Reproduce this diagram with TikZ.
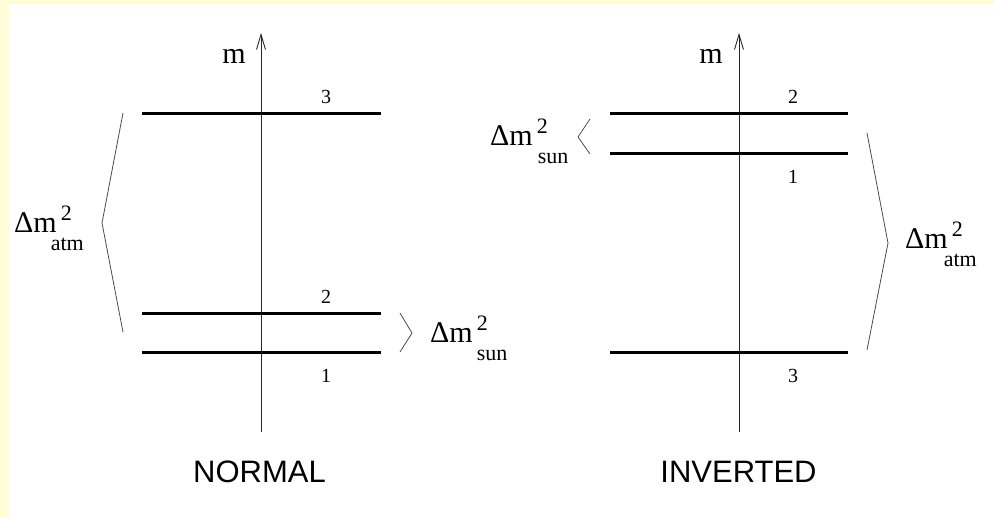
\documentclass[tikz,border=0pt]{standalone}
\usepackage{fontspec}
\setmainfont{Liberation Serif}
\setsansfont{Liberation Sans}
\usetikzlibrary{arrows.meta}

\definecolor{framey}{RGB}{255,253,214}

\tikzset{
  level/.style={line width=3pt, black},
  axis/.style={-{Straight Barb[length=15pt, width=9pt, line width=0.9pt]}, line width=0.9pt, black!85},
  bracket/.style={line width=0.8pt, black!70},
  numlab/.style={font=\fontsize{20}{20}\selectfont, anchor=base, inner sep=0pt},
  masslab/.style={font=\fontsize{30}{30}\selectfont, anchor=base, inner sep=0pt},
  splitlab/.style={font=\fontsize{30}{30}\selectfont, anchor=base west, inner sep=0pt},
  schemelab/.style={font=\sffamily\fontsize{31}{31}\selectfont, anchor=base, inner sep=0pt}
}

% Delta m^2 with its index set under the exponent
\newcommand{\dmsq}[2]{Δm\makebox[0pt][l]{\hspace{#2}\raisebox{-18pt}{\fontsize{22}{22}\selectfont #1}}\hspace{4pt}\raisebox{12pt}{\fontsize{22}{22}\selectfont 2}}

\begin{document}
\begin{tikzpicture}[x=1pt, y=-1pt]
    % fond jaune et zone blanche
    \fill[framey] (0,0) rectangle (994,517);
    \fill[white] (9,4) rectangle (994,517);
    \useasboundingbox (0,0) rectangle (994,517);

    % 1. Hiérarchie normale
    \coordinate (nbot) at (261,432);
    \coordinate (ntop) at (261,33);
    \draw[axis] (nbot) -- (ntop);
    \node[masslab] (nm) at (234,63) {m};

    % niveaux 3, 2, 1
    \foreach \name/\y/\lab/\ly in {n3/113/3/103, n2/313/2/303, n1/352/1/382} {
        \draw[level] (142,\y) coordinate (\name a) -- (381,\y) coordinate (\name b);
        \node[numlab] (\name lab) at (326,\ly) {\lab};
    }

    % écarts atm et sun
    \draw[bracket] (123,113) -- (102,223) -- (123,332);
    \node[splitlab] (natm) at (14,232) {\dmsq{atm}{-6pt}};
    \draw[bracket] (400,313) -- (412,333) -- (400,352);
    \node[splitlab] (nsun) at (430,342) {\dmsq{sun}{4pt}};

    \node[schemelab] (normal) at (259.5,482) {NORMAL};

    % 2. Hiérarchie inversée
    \coordinate (ibot) at (739,432);
    \coordinate (itop) at (739,33);
    \draw[axis] (ibot) -- (itop);
    \node[masslab] (im) at (711,63) {m};

    % niveaux 2, 1, 3
    \foreach \name/\y/\lab/\ly in {i2/113/2/103, i1/153/1/183, i3/352/3/382} {
        \draw[level] (610,\y) coordinate (\name a) -- (848,\y) coordinate (\name b);
        \node[numlab] (\name lab) at (793,\ly) {\lab};
    }

    % écarts sun et atm
    \draw[bracket] (590,119) -- (578,137) -- (590,154);
    \node[splitlab] (isun) at (490,145) {\dmsq{sun}{5pt}};
    \draw[bracket] (867,133) -- (888,243) -- (867,350);
    \node[splitlab] (iatm) at (905,248) {\dmsq{atm}{-4pt}};

    \node[schemelab] (inverted) at (738.5,482) {INVERTED};
\end{tikzpicture}
\end{document}
